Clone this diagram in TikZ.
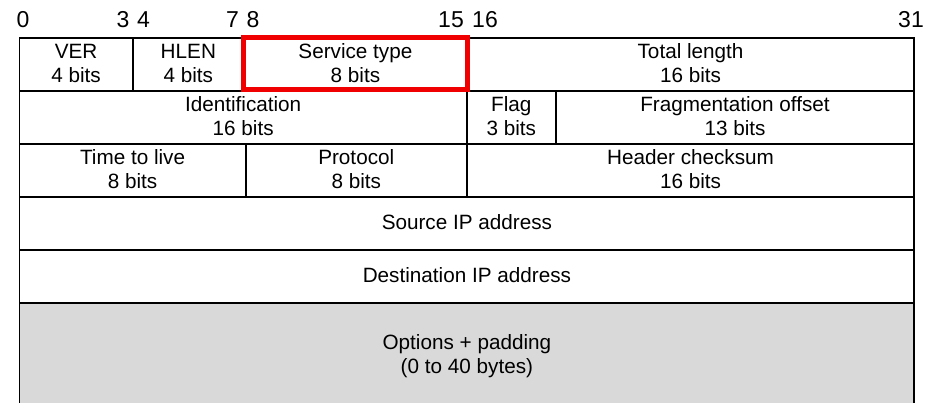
\documentclass[tikz,border=0pt]{standalone}
\usepackage{fontspec}
\setmainfont{Liberation Sans}
\usetikzlibrary{fit}
\definecolor{optgray}{RGB}{217,217,217}
\definecolor{hlred}{RGB}{240,0,0}
\tikzset{
  field/.style={draw=black, line width=1.8pt, rectangle, inner sep=0pt, outer sep=0pt},
  optfield/.style={field, fill=optgray},
  highlight/.style={draw=hlred, line width=5pt, rectangle, inner sep=0pt, outer sep=0pt},
  lbl/.style={font=\fontsize{20.7}{24}\selectfont, inner sep=0pt, anchor=base},
  bitnum/.style={font=\fontsize{23}{26}\selectfont, inner sep=0pt, anchor=base},
}
% field box from its two corners
\newcommand\fieldbox[6][field]{\node[#1, fit={(#3,#4) (#5,#6)}] (#2) {};}
% two-line field caption: name and width
\newcommand\twoline[3]{%
  \node[lbl] (#1-name) at ([yshift=-20.5pt]#1.north) {#2};
  \node[lbl] (#1-bits) at ([yshift=-44.5pt]#1.north) {#3};}
\begin{document}
\begin{tikzpicture}[x=1pt, y=-1pt]
\useasboundingbox (0,0) rectangle (933,402);
\clip (0,0) rectangle (933,402);

% bit positions
\node[bitnum] (b0)  at (23,27.3)    {0};
\node[bitnum] (b3)  at (123,27.3)   {3};
\node[bitnum] (b4)  at (143.5,27.3) {4};
\node[bitnum] (b7)  at (232.5,27.3) {7};
\node[bitnum] (b8)  at (253,27.3)   {8};
\node[bitnum] (b15) at (451,27.3)   {15};
\node[bitnum] (b16) at (485,27.3)   {16};
\node[bitnum] (b31) at (911,27.3)   {31};

% header words
\fieldbox[optfield]{opts}{19.5}{302.7}{914.3}{412}
\fieldbox{ver}{19.5}{38}{132.7}{90.9}
\fieldbox{hlen}{132.7}{38}{244}{90.9}
\fieldbox{tos}{244}{38}{466.8}{90.9}
\fieldbox{totlen}{466.8}{38}{914.3}{90.9}
\fieldbox{ident}{19.5}{90.9}{466.8}{143.9}
\fieldbox{flag}{466.8}{90.9}{555.7}{143.9}
\fieldbox{fragoff}{555.7}{90.9}{914.3}{143.9}
\fieldbox{ttl}{19.5}{143.9}{245.7}{196.8}
\fieldbox{proto}{245.7}{143.9}{466.8}{196.8}
\fieldbox{chksum}{466.8}{143.9}{914.3}{196.8}
\fieldbox{srcip}{19.5}{196.8}{914.3}{249.8}
\fieldbox{dstip}{19.5}{249.8}{914.3}{302.7}

% highlighted field
\node[highlight, fit={(243.5,37.5) (467.5,89.5)}] (hl) {};

% captions
\twoline{ver}{VER}{4 bits}
\twoline{hlen}{HLEN}{4 bits}
\twoline{tos}{Service type}{8 bits}
\twoline{totlen}{Total length}{16 bits}
\twoline{ident}{Identification}{16 bits}
\twoline{flag}{Flag}{3 bits}
\twoline{fragoff}{Fragmentation offset}{13 bits}
\twoline{ttl}{Time to live}{8 bits}
\twoline{proto}{Protocol}{8 bits}
\twoline{chksum}{Header checksum}{16 bits}
\node[lbl] (srcip-name) at ([yshift=-32.7pt]srcip.north) {Source IP address};
\node[lbl] (dstip-name) at ([yshift=-32.7pt]dstip.north) {Destination IP address};
\node[lbl] (opts-name) at ([yshift=-46.8pt]opts.north) {Options + padding};
\node[lbl] (opts-bits) at ([yshift=-70.8pt]opts.north) {(0 to 40 bytes)};
\end{tikzpicture}
\end{document}
